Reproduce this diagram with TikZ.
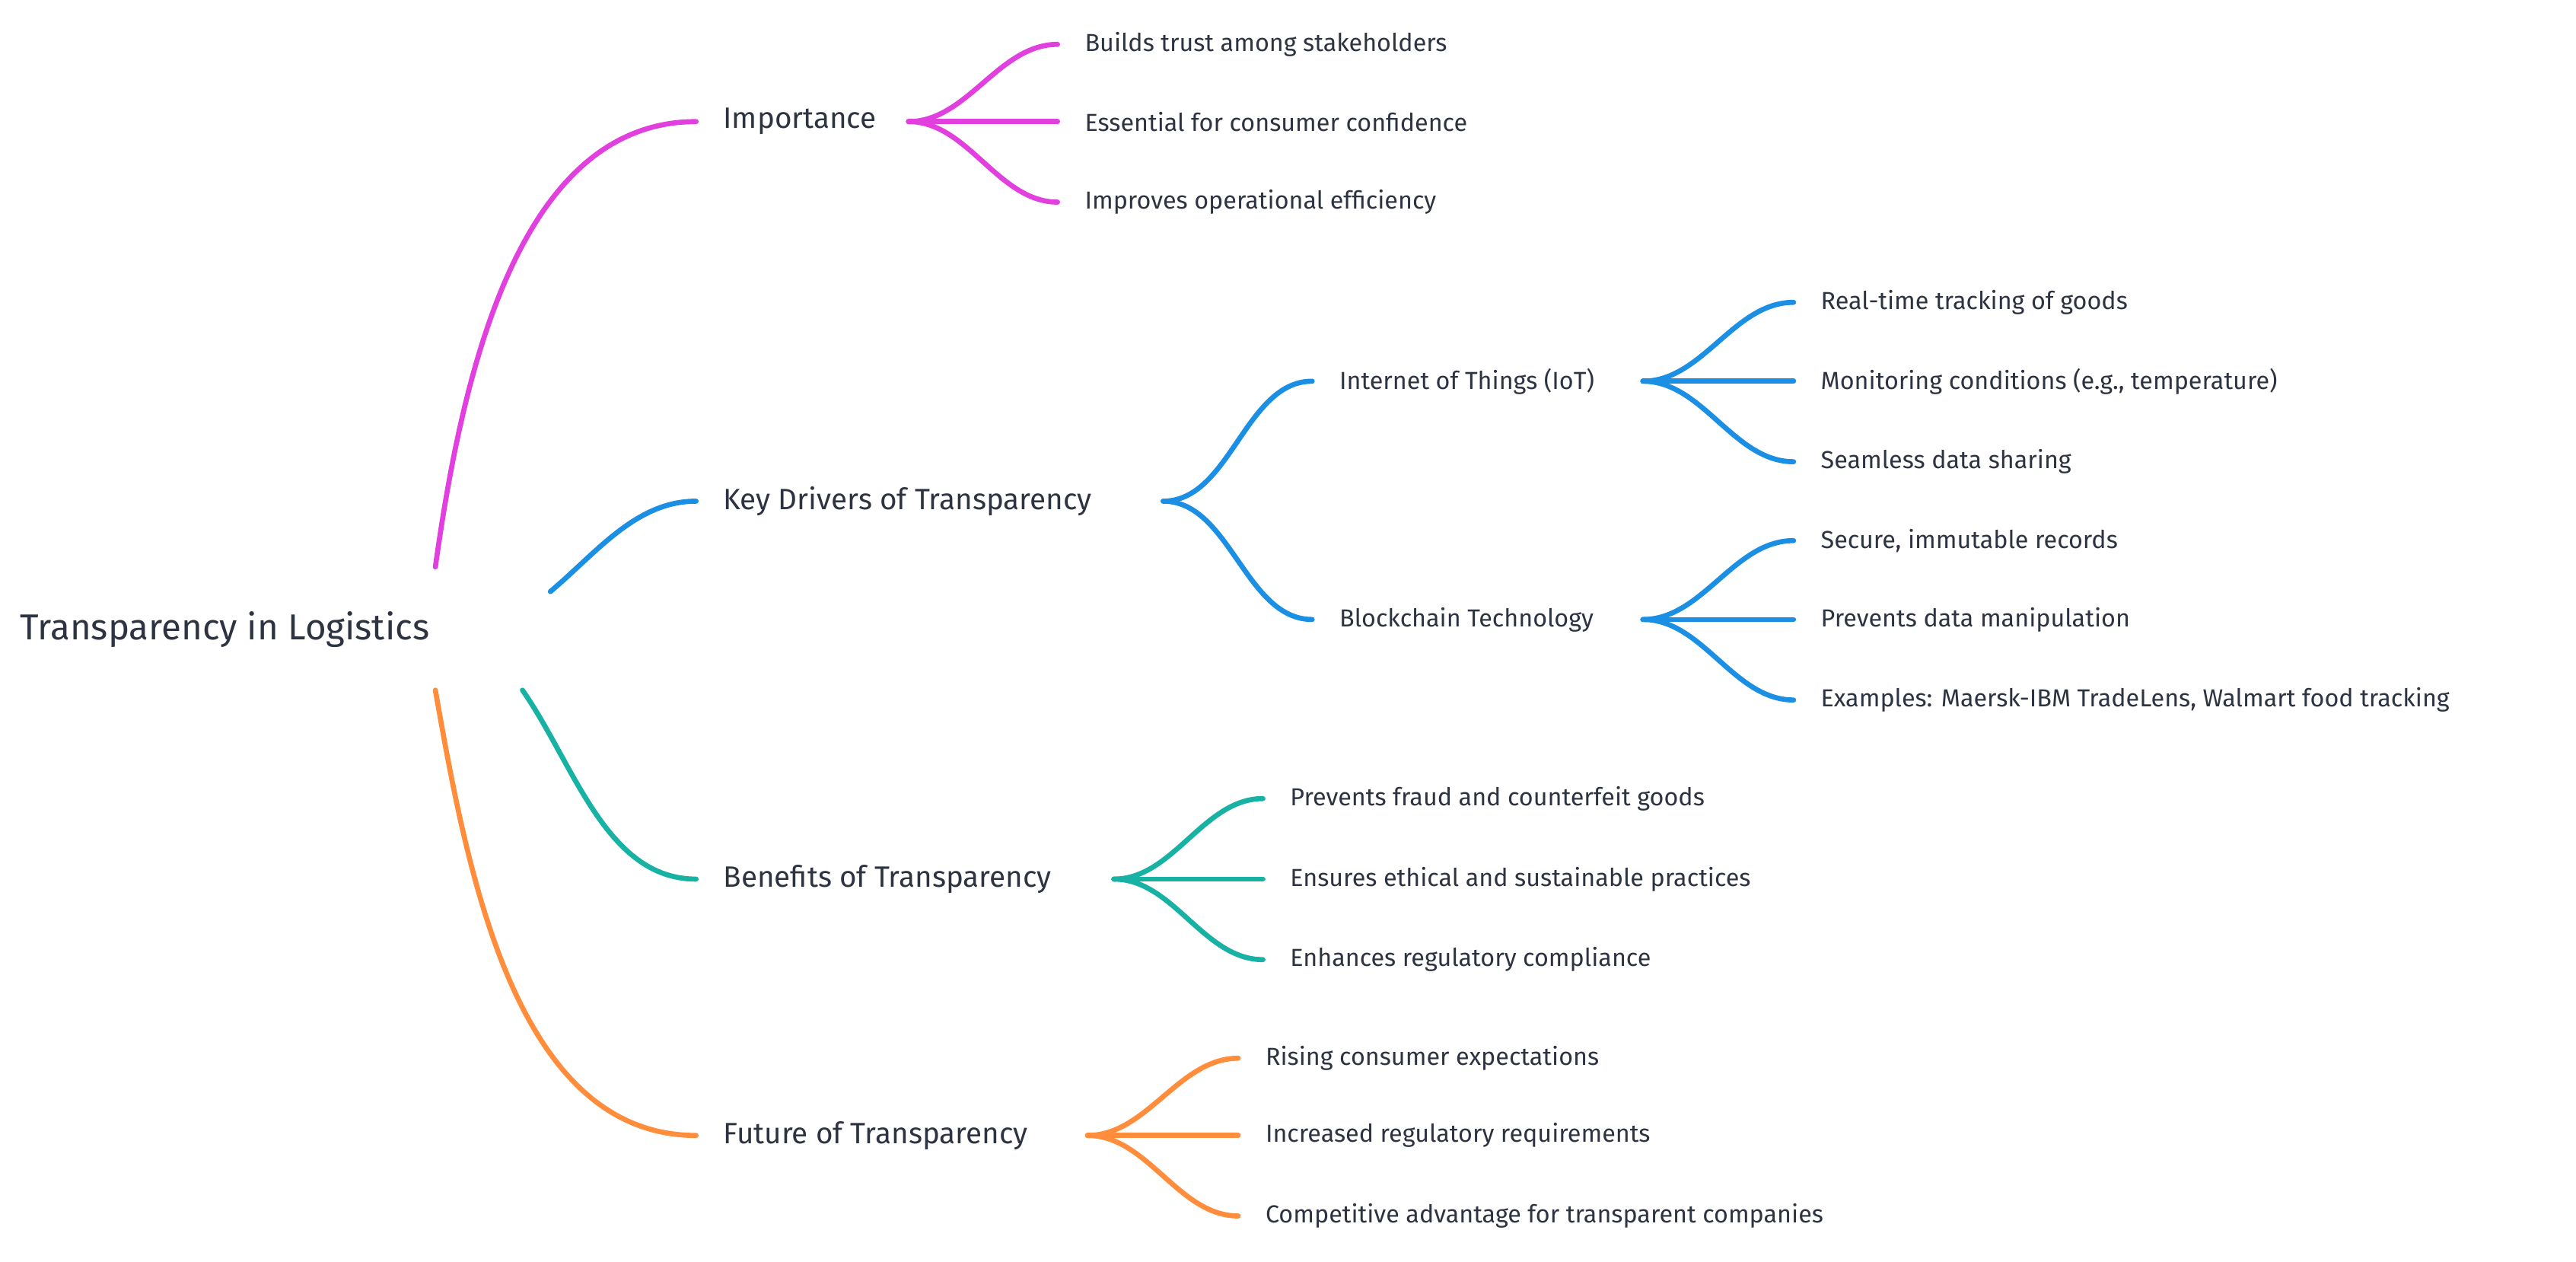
\documentclass[tikz,border=0pt]{standalone}
\usepackage{fontspec}
\setmainfont{Fira Sans}
\definecolor{txt}{HTML}{2D3340}
\definecolor{cpink}{HTML}{E23FDF}
\definecolor{cblue}{HTML}{1A8FE3}
\definecolor{cteal}{HTML}{17B2A3}
\definecolor{corange}{HTML}{FF8D3C}
\begin{document}
\begin{tikzpicture}[x=0.02159cm,y=-0.02159cm,
  root/.style={anchor=west,inner sep=0pt,text=txt,font=\fontsize{13.5}{16}\selectfont},
  main/.style={anchor=west,inner sep=0pt,text=txt,font=\fontsize{11}{13}\selectfont},
  leaf/.style={anchor=west,inner sep=0pt,text=txt,font=\fontsize{9.2}{11}\selectfont},
  br/.style={line width=1.9pt,line cap=round},
  fan/.style={br,out=0,in=180,looseness=0.9}]
\useasboundingbox (0,0) rectangle (1568,768);

% root
\node[root] (r) at (12,383) {Transparency in Logistics};
\coordinate (rp) at (265,345);
\coordinate (rb) at (335,360);
\coordinate (rt) at (318,420);
\coordinate (ro) at (265,420);

% level 1
\node[main] (imp) at (440,74) {Importance};
\node[main] (key) at (440,305) {Key Drivers of Transparency};
\node[main] (ben) at (440,535) {Benefits of Transparency};
\node[main] (fut) at (440,691) {Future of Transparency};

\draw[br,cpink] (rp) to[out=82,in=180,looseness=0.9] ([xshift=-10]imp.west);
\draw[br,cblue] (rb) to[out=40,in=180,looseness=0.9] ([xshift=-10]key.west);
\draw[br,cteal] (rt) to[out=-55,in=180,looseness=0.9] ([xshift=-10]ben.west);
\draw[br,corange] (ro) to[out=-80,in=180,looseness=0.9] ([xshift=-10]fut.west);

% importance
\coordinate (impb) at (553,74);
\node[leaf] (i1) at (660,27) {Builds trust among stakeholders};
\node[leaf] (i2) at (660,74) {Essential for consumer confidence};
\node[leaf] (i3) at (660,123) {Improves operational efficiency};
\foreach \n in {i1,i2,i3}
  \draw[fan,cpink] (impb) to ([xshift=-10]\n.west);

% key drivers
\coordinate (keyb) at (708,305);
\node[leaf] (iot) at (815,232) {Internet of Things (IoT)};
\node[leaf] (blk) at (815,377) {Blockchain Technology};
\foreach \n in {iot,blk}
  \draw[fan,cblue] (keyb) to ([xshift=-10]\n.west);

\coordinate (iotb) at (1000,232);
\node[leaf] (t1) at (1108,184) {Real-time tracking of goods};
\node[leaf] (t2) at (1108,232) {Monitoring conditions (e.g., temperature)};
\node[leaf] (t3) at (1108,281) {Seamless data sharing};
\foreach \n in {t1,t2,t3}
  \draw[fan,cblue] (iotb) to ([xshift=-10]\n.west);

\coordinate (blkb) at (1000,377);
\node[leaf] (b1) at (1108,329) {Secure, immutable records};
\node[leaf] (b2) at (1108,377) {Prevents data manipulation};
\node[leaf] (b3) at (1108,426) {Examples: Maersk-IBM TradeLens, Walmart food tracking};
\foreach \n in {b1,b2,b3}
  \draw[fan,cblue] (blkb) to ([xshift=-10]\n.west);

% benefits
\coordinate (benb) at (678,535);
\node[leaf] (e1) at (785,486) {Prevents fraud and counterfeit goods};
\node[leaf] (e2) at (785,535) {Ensures ethical and sustainable practices};
\node[leaf] (e3) at (785,584) {Enhances regulatory compliance};
\foreach \n in {e1,e2,e3}
  \draw[fan,cteal] (benb) to ([xshift=-10]\n.west);

% future
\coordinate (futb) at (662,691);
\node[leaf] (f1) at (770,644) {Rising consumer expectations};
\node[leaf] (f2) at (770,691) {Increased regulatory requirements};
\node[leaf] (f3) at (770,740) {Competitive advantage for transparent companies};
\foreach \n in {f1,f2,f3}
  \draw[fan,corange] (futb) to ([xshift=-10]\n.west);
\end{tikzpicture}
\end{document}
